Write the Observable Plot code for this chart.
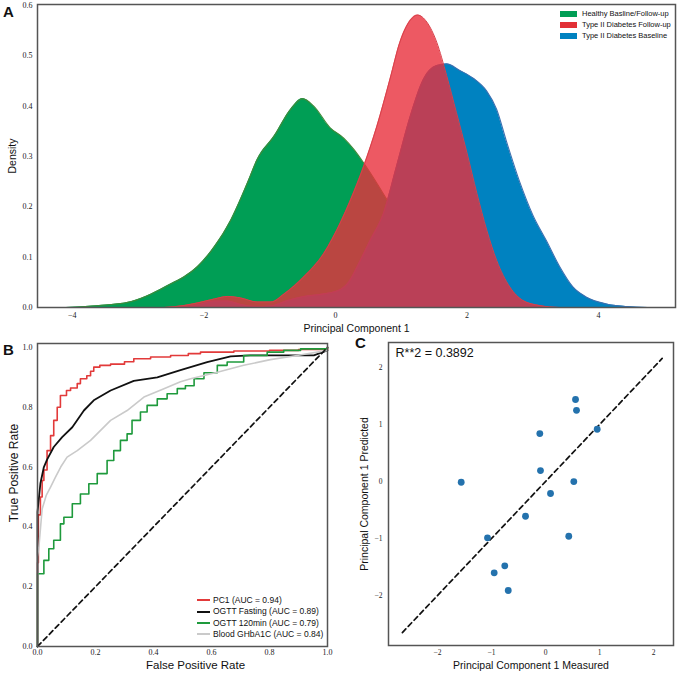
<!DOCTYPE html>
<html><head><meta charset="utf-8">
<script src="https://cdn.jsdelivr.net/npm/d3@7"></script>
<script src="https://cdn.jsdelivr.net/npm/@observablehq/plot@0.6"></script>
<style>
body{margin:0;background:#fff;}
#root{position:relative;width:680px;height:674px;overflow:hidden;font-family:"Liberation Sans",Arial,sans-serif;color:#111;}
.panel{position:absolute;}
.plab{position:absolute;font-weight:bold;font-size:15px;line-height:1;}
.lrow{position:absolute;display:flex;align-items:center;white-space:nowrap;line-height:1;}
</style></head><body><div id="root"></div>
<script>
// ---------- Panel A: densities of principal component 1 ----------
const densityLabels = ["Healthy Basline/Follow-up", "Type II Diabetes Follow-up", "Type II Diabetes Baseline"];
const densityColors = ["#009e55", "#e8303c", "#0082c0"];
const densityXTicks = [-4, -2, 0, 2, 4];
const densityYTicks = [0, 0.1, 0.2, 0.3, 0.4, 0.5, 0.6];
const healthyDensity = [[-4.1,0],[-3.8,0.002],[-3.5,0.005],[-3.1,0.012],[-2.8,0.027],[-2.5,0.047],[-2.3,0.061],[-2.1,0.081],[-1.84,0.121],[-1.59,0.174],[-1.34,0.247],[-1.19,0.294],[-0.93,0.341],[-0.68,0.394],[-0.5,0.415],[-0.33,0.40],[-0.08,0.357],[0.13,0.336],[0.28,0.314],[0.43,0.287],[0.63,0.247],[0.83,0.204],[1.03,0.161],[1.24,0.117],[1.44,0.077],[1.64,0.044],[1.94,0.017],[2.25,0.006],[2.65,0.001],[2.9,0]];
const followupDensity = [[-2.6,0],[-2.3,0.004],[-2.1,0.009],[-1.84,0.017],[-1.64,0.022],[-1.44,0.019],[-1.19,0.011],[-0.98,0.011],[-0.78,0.027],[-0.48,0.061],[-0.18,0.107],[0.08,0.17],[0.23,0.214],[0.43,0.281],[0.63,0.36],[0.83,0.454],[0.98,0.527],[1.14,0.571],[1.25,0.581],[1.39,0.567],[1.54,0.527],[1.69,0.461],[1.84,0.387],[2.0,0.307],[2.15,0.227],[2.3,0.154],[2.45,0.094],[2.65,0.041],[2.85,0.014],[3.1,0.004],[3.4,0]];
const baselineDensity = [[-2.4,0],[-2.1,0.005],[-1.84,0.013],[-1.64,0.013],[-1.44,0.006],[-1.19,0.002],[-0.98,0.003],[-0.73,0.014],[-0.48,0.022],[-0.18,0.027],[0.08,0.036],[0.2,0.05],[0.33,0.081],[0.53,0.134],[0.73,0.187],[0.93,0.281],[1.14,0.381],[1.34,0.454],[1.54,0.481],[1.69,0.484],[1.89,0.471],[2.1,0.455],[2.3,0.43],[2.45,0.394],[2.6,0.33],[2.8,0.25],[3.0,0.184],[3.21,0.132],[3.41,0.081],[3.61,0.041],[3.81,0.021],[4.12,0.007],[4.42,0.002],[4.75,0]];

// ---------- Panel B: ROC curves ----------
const rocLabels = ["PC1 (AUC = 0.94)", "OGTT Fasting (AUC = 0.89)", "OGTT 120min (AUC = 0.79)", "Blood GHbA1C (AUC = 0.84)"];
const rocColors = ["#e23a3a", "#111111", "#1e9a3c", "#cacaca"];
const rocTicks = [0, 0.2, 0.4, 0.6, 0.8, 1.0];
const pc1Roc = [[0,0],[0,0.28],[0.003,0.44],[0.01,0.50],[0.016,0.555],[0.022,0.59],[0.033,0.655],[0.045,0.705],[0.056,0.756],[0.068,0.80],[0.079,0.839],[0.1,0.856],[0.114,0.864],[0.137,0.879],[0.148,0.895],[0.17,0.905],[0.183,0.92],[0.194,0.934],[0.215,0.94],[0.252,0.944],[0.3,0.952],[0.332,0.962],[0.39,0.968],[0.459,0.973],[0.52,0.979],[0.562,0.984],[0.677,0.988],[0.8,0.99],[0.9,0.993],[1,1]];
const fastingRoc = [[0,0],[0,0.45],[0.01,0.545],[0.022,0.6],[0.033,0.625],[0.056,0.667],[0.085,0.70],[0.12,0.733],[0.16,0.789],[0.194,0.823],[0.252,0.856],[0.332,0.888],[0.413,0.90],[0.493,0.924],[0.585,0.951],[0.666,0.97],[0.734,0.973],[0.953,0.973],[1,0.99]];
const ogtt120Roc = [[0,0],[0,0.243],[0.022,0.288],[0.039,0.327],[0.056,0.355],[0.079,0.41],[0.091,0.432],[0.12,0.477],[0.148,0.51],[0.177,0.544],[0.206,0.578],[0.24,0.622],[0.263,0.655],[0.286,0.689],[0.309,0.711],[0.326,0.756],[0.355,0.784],[0.378,0.806],[0.413,0.828],[0.447,0.845],[0.482,0.862],[0.51,0.872],[0.54,0.895],[0.574,0.915],[0.62,0.94],[0.654,0.951],[0.711,0.973],[0.792,0.984],[0.849,0.99],[0.907,0.995],[1,1]];
const hba1cRoc = [[0,0],[0,0.30],[0.005,0.335],[0.016,0.46],[0.03,0.505],[0.045,0.533],[0.062,0.566],[0.08,0.60],[0.102,0.633],[0.137,0.655],[0.183,0.689],[0.252,0.756],[0.309,0.789],[0.367,0.834],[0.436,0.862],[0.493,0.885],[0.528,0.895],[0.62,0.917],[0.711,0.94],[0.803,0.959],[0.895,0.973],[1,0.99]];
const rocDiagonal = [0, 1];

// ---------- Panel C: measured vs predicted ----------
const pcTicks = [-2, -1, 0, 1, 2];
const measured  = [0.556, 0.574, 0.957, -0.105, -0.093, -1.561, 0.524, 0.093, -0.37, -1.074, 0.431, -0.754, -0.95, -0.69];
const predicted = [1.44, 1.25, 0.918, 0.842, 0.193, -0.012, 0.0, -0.21, -0.609, -0.988, -0.96, -1.479, -1.602, -1.912];
const identityLine = [-2.65, 2.16];
const r2Text = "R**2 = 0.3892";

// ---------- rendering ----------
const serif = "Liberation Serif";
const sans = "Liberation Sans";
const fmtMinus = d => (d < 0 ? "\u2212" + Math.abs(d) : String(d));
const fmt1 = d3.format(".1f");
const X = d => d[0], Y = d => d[1];
const frameStyle = {stroke: "#555", strokeWidth: 1.5};
const root = document.getElementById("root");

function place(el, left, top) {
  const w = document.createElement("div");
  w.className = "panel"; w.style.left = left + "px"; w.style.top = top + "px";
  w.appendChild(el); root.appendChild(w);
}
function xLabel(t, dy, size, dx = 0) {
  return Plot.text([t], {text: d => d, frameAnchor: "bottom", textAnchor: "middle", lineAnchor: "middle", dx, dy, fontFamily: sans, fontSize: size, fill: "#111"});
}
function yLabel(t, dx, size, dy = 0) {
  return Plot.text([t], {text: d => d, frameAnchor: "left", textAnchor: "middle", lineAnchor: "middle", dx, dy, rotate: -90, fontFamily: sans, fontSize: size, fill: "#111"});
}

const plotA = Plot.plot({
  width: 680, height: 336,
  marginLeft: 37, marginRight: 5, marginTop: 4, marginBottom: 29,
  style: {fontFamily: serif, fontSize: "8px", background: "transparent", color: "#222"},
  x: {domain: [-4.53, 5.17]},
  y: {domain: [0, 0.602]},
  marks: [
    Plot.areaY(healthyDensity, {x: X, y: Y, fill: densityColors[0], curve: "monotone-x"}),
    Plot.lineY(healthyDensity, {x: X, y: Y, stroke: "#3f8a3a", strokeWidth: 1.1, curve: "monotone-x"}),
    Plot.areaY(baselineDensity, {x: X, y: Y, fill: densityColors[2], curve: "monotone-x"}),
    Plot.lineY(baselineDensity, {x: X, y: Y, stroke: "#3a6fb0", strokeWidth: 1.1, curve: "monotone-x"}),
    Plot.areaY(followupDensity, {x: X, y: Y, fill: densityColors[1], fillOpacity: 0.8, curve: "monotone-x"}),
    Plot.lineY(followupDensity, {x: X, y: Y, stroke: "#d8404a", strokeWidth: 1, curve: "monotone-x"}),
    Plot.frame(frameStyle),
    Plot.axisX({ticks: densityXTicks, tickSize: 0, tickPadding: 5, tickFormat: fmtMinus, label: null}),
    Plot.axisY({ticks: densityYTicks, tickSize: 0, tickPadding: 5, tickFormat: fmt1, label: null}),
    xLabel("Principal Component 1", 21, 10.5),
    yLabel("Density", -25, 10.5)
  ]
});
place(plotA, 0, 0);

const plotB = Plot.plot({
  width: 340, height: 344,
  marginLeft: 37, marginRight: 13, marginTop: 13, marginBottom: 28,
  style: {fontFamily: serif, fontSize: "8px", background: "transparent", color: "#222"},
  x: {domain: [0, 1]},
  y: {domain: [0, 1.013]},
  marks: [
    Plot.line(pc1Roc, {x: X, y: Y, stroke: rocColors[0], strokeWidth: 1.6, curve: "step-after"}),
    Plot.line(fastingRoc, {x: X, y: Y, stroke: rocColors[1], strokeWidth: 1.8}),
    Plot.line(ogtt120Roc, {x: X, y: Y, stroke: rocColors[2], strokeWidth: 1.6, curve: "step-after"}),
    Plot.line(hba1cRoc, {x: X, y: Y, stroke: rocColors[3], strokeWidth: 1.6}),
    Plot.line(rocDiagonal, {x: d => d, y: d => d, stroke: "#111", strokeWidth: 1.7, strokeDasharray: "5,3.5"}),
    Plot.frame(frameStyle),
    Plot.axisX({ticks: rocTicks, tickSize: 0, tickPadding: 3, tickFormat: fmt1, label: null}),
    Plot.axisY({ticks: rocTicks, tickSize: 0, tickPadding: 5, tickFormat: fmt1, label: null}),
    xLabel("False Positive Rate", 19, 11.5, 13),
    yLabel("True Positive Rate", -23, 12, -22)
  ]
});
place(plotB, 0, 330);

const scatter = measured.map((m, i) => ({m, p: predicted[i]}));
const plotC = Plot.plot({
  width: 340, height: 344,
  marginLeft: 48, marginRight: 7, marginTop: 12, marginBottom: 29,
  style: {fontFamily: serif, fontSize: "7.5px", background: "transparent", color: "#222"},
  x: {domain: [-2.907, 2.37]},
  y: {domain: [-2.877, 2.44]},
  marks: [
    Plot.line(identityLine, {x: d => d, y: d => d, stroke: "#111", strokeWidth: 1.7, strokeDasharray: "5,3.5"}),
    Plot.dot(scatter, {x: "m", y: "p", r: 3.4, fill: "#2472ad", stroke: "none"}),
    Plot.frame(frameStyle),
    Plot.axisX({ticks: pcTicks, tickSize: 0, tickPadding: 4, tickFormat: fmtMinus, label: null}),
    Plot.axisY({ticks: pcTicks, tickSize: 0, tickPadding: 6, tickFormat: fmtMinus, label: null}),
    Plot.text([r2Text], {text: d => d, frameAnchor: "top-left", dx: 7, dy: 10, textAnchor: "start", lineAnchor: "middle", fontFamily: sans, fontSize: 12.5, fill: "#111"}),
    xLabel("Principal Component 1 Measured", 20, 10.5),
    yLabel("Principal Component 1 Predicted", -24, 10.5)
  ]
});
place(plotC, 340, 330);

// panel letters
[["A", 3, 4], ["B", 3, 342], ["C", 355, 335]].forEach(([t, l, tp]) => {
  const d = document.createElement("div");
  d.className = "plab"; d.textContent = t; d.style.left = l + "px"; d.style.top = tp + "px";
  root.appendChild(d);
});

// legend A
const legAOrder = [0, 1, 2];
const legARows = [13.5, 24.5, 35.5];
legAOrder.forEach((k, i) => {
  const row = document.createElement("div");
  row.className = "lrow";
  row.style.left = "560px"; row.style.top = (legARows[i] - 4) + "px"; row.style.height = "8px";
  row.style.fontSize = "7.5px";
  const sw = document.createElement("span");
  sw.style.cssText = `display:inline-block;width:17px;height:6px;margin-right:5px;background:${k === 1 ? "#e23036" : densityColors[k]}`;
  const tx = document.createElement("span"); tx.textContent = densityLabels[k];
  row.appendChild(sw); row.appendChild(tx); root.appendChild(row);
});

// legend B
const legBRows = [600, 611.5, 623, 634];
rocLabels.forEach((lab, i) => {
  const row = document.createElement("div");
  row.className = "lrow";
  row.style.left = "197px"; row.style.top = (legBRows[i] - 5) + "px"; row.style.height = "10px";
  row.style.fontSize = "8.5px";
  const sw = document.createElement("span");
  sw.style.cssText = `display:inline-block;width:13px;height:2px;margin-right:3px;background:${rocColors[i]}`;
  const tx = document.createElement("span"); tx.textContent = lab;
  row.appendChild(sw); row.appendChild(tx); root.appendChild(row);
});
</script>
</body></html>
